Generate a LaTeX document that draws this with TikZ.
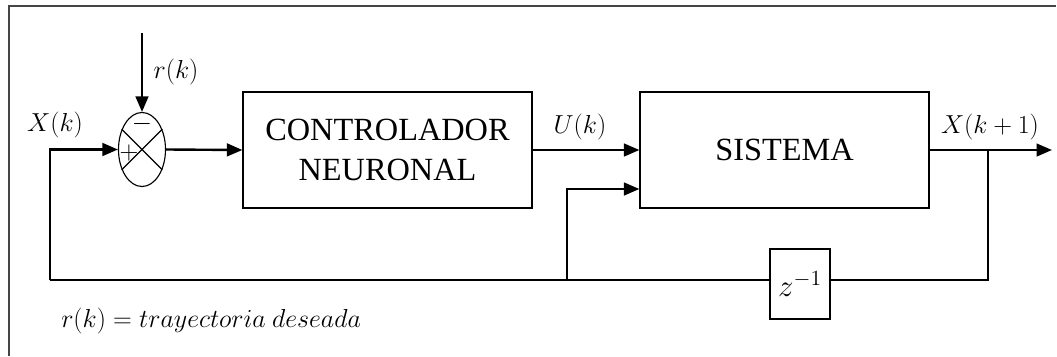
\documentclass[tikz,border=0pt]{standalone}
\usepackage{fix-cm}
\usepackage{fontspec}
\setmainfont{Liberation Serif}
\usetikzlibrary{arrows.meta,shapes.geometric}
\definecolor{framecol}{HTML}{454545}
\begin{document}
\begin{tikzpicture}[x=0.025cm,y=-0.025cm,
  blockbox/.style={draw,line width=0.8pt,rectangle,minimum width=7.225cm,minimum height=2.9cm,inner sep=0pt,align=center,font=\fontsize{23}{27}\selectfont},
  sig/.style={line width=1.7pt,-{Triangle[length=11pt,width=9pt]}},
  wire/.style={line width=1.4pt},
  lbl/.style={font=\fontsize{18.5}{22}\selectfont,inner sep=0pt}]
\useasboundingbox (0,0) rectangle (1057,356);
\draw[framecol,line width=1.5pt] (9,356) -- (9,6) -- (1056,6);

\node[draw,ellipse,line width=0.8pt,minimum width=1.175cm,minimum height=1.85cm,inner sep=0pt] (sum) at (142,149.5) {};
\draw[line width=0.8pt] (sum.45) -- (sum.225) (sum.135) -- (sum.315);
\node[lbl] (minus) at (142,124) {$-$};
\node[lbl] (plus) at (129,153) {$+$};

\node[blockbox] (ctrl) at (387.5,150) {CONTROLADOR\\[2pt]NEURONAL};
\node[blockbox] (sys) at (784.5,150) {SISTEMA};
\node[draw,line width=0.8pt,minimum width=1.5cm,minimum height=1.75cm,inner sep=0pt,font=\fontsize{22}{26}\selectfont] (zb) at (800,284) {$z^{-1}$};

\coordinate (rtop) at (142,33);
\coordinate (xl) at (50,149.5);
\coordinate (xb) at (50,280);
\coordinate (jn) at (567,280);
\coordinate (jt) at (567,189);
\coordinate (br) at (988,150);
\coordinate (bb) at (988,280);
\coordinate (outend) at (1052,150);

\draw[sig] (rtop) -- (sum.north);
\draw[sig] (xb) -- (xl) -- (sum.west);
\draw[sig] (sum.east) -- (ctrl.west);
\draw[sig] (ctrl.east) -- (sys.west);
\draw[sig] (jn) -- (jt) -- (sys.west |- jt);
\draw[sig] (sys.east) -- (outend);
\draw[wire] (br) -- (bb) -- (zb.east |- bb);
\draw[wire] (zb.west |- bb) -- (xb);

\node[lbl] (rl) at (176,72) {$r(k)$};
\node[lbl] (xkl) at (55,125) {$X(k)$};
\node[lbl] (ul) at (580,127) {$U(k)$};
\node[lbl] (xk1) at (990,127) {$X(k+1)$};
\node[lbl,anchor=west] (note) at (61,321) {$r(k) = trayectoria\ deseada$};
\end{tikzpicture}
\end{document}
